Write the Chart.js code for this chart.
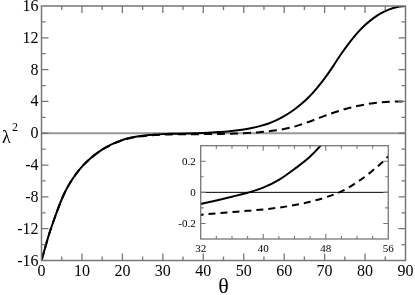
<!DOCTYPE html>
<html>
<head>
<meta charset="utf-8">
<script src="https://cdn.jsdelivr.net/npm/chart.js@4/dist/chart.umd.min.js"></script>
<style>
  html,body{margin:0;padding:0;background:#fff;}
  #wrap{position:relative;width:415px;height:295px;}
  #main{position:absolute;left:0;top:0;}
  #inset{position:absolute;left:160px;top:130px;}
</style>
</head>
<body>
<div id="wrap">
<canvas id="main" width="415" height="295"></canvas>
<canvas id="inset" width="240" height="128"></canvas>
</div>
<script>
// ---- data ----
const theta  = [0, 1, 2, 3, 4, 5, 6, 7, 8, 10, 12, 14, 16, 18, 20, 22, 24, 26, 28, 30, 32, 34, 36, 38, 40, 42, 44, 46, 48, 50, 52, 54, 56, 58, 60, 62, 64, 66, 68, 70, 72, 74, 76, 78, 80, 82, 84, 86, 88, 90];
const solid  = [-16, -14.2, -12.5, -11.0, -9.6, -8.3, -7.2, -6.3, -5.5, -4.2, -3.2, -2.4, -1.75, -1.25, -0.85, -0.57, -0.38, -0.25, -0.17, -0.11, -0.075, -0.052, -0.028, -0.003, 0.03, 0.08, 0.15, 0.23, 0.34, 0.48, 0.66, 0.9, 1.2, 1.62, 2.15, 2.8, 3.58, 4.5, 5.62, 6.9, 8.35, 9.9, 11.3, 12.55, 13.6, 14.45, 15.1, 15.58, 15.88, 16];
const dashed = [-16, -14.2, -12.5, -11.0, -9.6, -8.3, -7.2, -6.3, -5.5, -4.2, -3.2, -2.4, -1.78, -1.28, -0.88, -0.6, -0.42, -0.3, -0.22, -0.17, -0.145, -0.135, -0.127, -0.119, -0.11, -0.098, -0.082, -0.06, -0.032, 0.006, 0.065, 0.14, 0.233, 0.37, 0.54, 0.76, 1.07, 1.42, 1.8, 2.18, 2.55, 2.88, 3.17, 3.42, 3.62, 3.78, 3.89, 3.96, 3.99, 4.0];

const mainXTicks  = [0, 10, 20, 30, 40, 50, 60, 70, 80, 90];
const mainYTicks  = [-16, -12, -8, -4, 0, 4, 8, 12, 16];
const insetXTicks = [32, 40, 48, 56];
const insetYTicks = [-0.2, 0, 0.2];

const SERIF = "Liberation Serif";

function pts(ys){ return theta.map((t,i)=>({x:t, y:ys[i]})); }

function framePlugin(cfg){
  return {
    id:'frameTicks',
    beforeDatasetsDraw(chart){
      const {ctx, chartArea:a, scales:{y}} = chart;
      const py = y.getPixelForValue(0);
      ctx.save();
      ctx.strokeStyle = cfg.zeroColor; ctx.lineWidth = cfg.zeroWidth;
      ctx.beginPath(); ctx.moveTo(a.left, py); ctx.lineTo(a.right, py); ctx.stroke();
      ctx.restore();
    },
    afterDraw(chart){
      const {ctx, chartArea:a, scales:{x, y}} = chart;
      ctx.save();
      ctx.strokeStyle = cfg.frameColor; ctx.lineWidth = cfg.frameWidth;
      ctx.strokeRect(a.left, a.top, a.right-a.left, a.bottom-a.top);
      ctx.lineWidth = cfg.tickWidth;
      ctx.beginPath();
      for (let v = x.min; v <= x.max + 1e-9; v += cfg.xMinor) {
        const major = Math.abs(Math.round(v/cfg.xMajor)*cfg.xMajor - v) < 1e-6;
        const L = major ? cfg.majorLen : cfg.minorLen;
        const px = x.getPixelForValue(v);
        if (px <= a.left+0.5 || px >= a.right-0.5) continue;
        ctx.moveTo(px, a.bottom); ctx.lineTo(px, a.bottom - L);
        ctx.moveTo(px, a.top); ctx.lineTo(px, a.top + L);
      }
      for (let v = y.min; v <= y.max + 1e-9; v += cfg.yMinor) {
        const major = Math.abs(Math.round(v/cfg.yMajor)*cfg.yMajor - v) < 1e-6;
        const L = major ? cfg.majorLen : cfg.minorLen;
        const py = y.getPixelForValue(v);
        if (py <= a.top+0.5 || py >= a.bottom-0.5) continue;
        ctx.moveTo(a.left, py); ctx.lineTo(a.left + L, py);
        ctx.moveTo(a.right, py); ctx.lineTo(a.right - L, py);
      }
      ctx.stroke();
      // tick labels, placed through the scales
      ctx.fillStyle = '#000';
      ctx.font = cfg.fs + 'px ' + SERIF;
      ctx.textBaseline = 'alphabetic';
      ctx.textAlign = 'center';
      cfg.xticks.forEach(v => ctx.fillText(String(v), x.getPixelForValue(v), a.bottom + cfg.xBase));
      ctx.textAlign = 'right';
      cfg.yticks.forEach(v => ctx.fillText(String(v), a.left - cfg.yPad, y.getPixelForValue(v) + cfg.yBase));
      if (cfg.titles) {
        ctx.textAlign = 'left';
        ctx.font = '18px ' + SERIF;
        ctx.fillText('λ', 2, 143);
        ctx.font = '12px ' + SERIF;
        ctx.fillText('2', 12, 131);
        ctx.font = '22px ' + SERIF;
        ctx.textAlign = 'center';
        ctx.fillText('θ', (a.left+a.right)/2, 293);
      }
      ctx.restore();
    }
  };
}

function makeChart(id, c){
  return new Chart(document.getElementById(id), {
    type:'line',
    data:{ datasets:[
      {data:pts(solid), borderColor:'#000', borderWidth:c.lw, pointRadius:0, fill:false, cubicInterpolationMode:'monotone'},
      {data:pts(dashed), borderColor:'#000', borderWidth:c.lw, borderDash:c.dash, pointRadius:0, fill:false, cubicInterpolationMode:'monotone'}
    ]},
    options:{
      responsive:false, animation:false, devicePixelRatio:1,
      layout:{padding:{top:c.padTop, right:c.padRight, left:0, bottom:0}},
      plugins:{legend:{display:false}, tooltip:{enabled:false}},
      scales:{
        x:{type:'linear', min:c.xmin, max:c.xmax,
           afterBuildTicks:s=>{ s.ticks = c.xticks.map(v=>({value:v})); },
           afterFit:s=>{ s.height = c.xH; },
           grid:{display:false, drawTicks:false}, border:{display:false},
           ticks:{display:false}},
        y:{type:'linear', min:c.ymin, max:c.ymax,
           afterBuildTicks:s=>{ s.ticks = c.yticks.map(v=>({value:v})); },
           afterFit:s=>{ s.width = c.yW; },
           grid:{display:false, drawTicks:false}, border:{display:false},
           ticks:{display:false}}
      }
    },
    plugins:[framePlugin(Object.assign({xticks:c.xticks, yticks:c.yticks}, c.frame))]
  });
}

makeChart('main', {
  lw:2, dash:[8,5], padTop:6, padRight:9.5, xmin:0, xmax:90, ymin:-16, ymax:16,
  xticks:mainXTicks, yticks:mainYTicks, xH:34.5, yW:41.5,
  frame:{zeroColor:'#999', zeroWidth:2, frameColor:'#777', frameWidth:1.5, tickWidth:1.3,
         xMinor:5, xMajor:10, yMinor:2, yMajor:4, majorLen:7, minorLen:4, titles:true,
         fs:16, xBase:15, yPad:3, yBase:5}
});

makeChart('inset', {
  lw:2, dash:[7,5], padTop:15.7, padRight:11.7, xmin:32, xmax:56, ymin:-0.3, ymax:0.3,
  xticks:insetXTicks, yticks:insetYTicks, xH:19, yW:40.7,
  frame:{zeroColor:'#000', zeroWidth:1, frameColor:'#777', frameWidth:1.3, tickWidth:1.1,
         xMinor:2, xMajor:8, yMinor:0.1, yMajor:0.2, majorLen:5, minorLen:3, titles:false,
         fs:11, xBase:12.5, yPad:5, yBase:3.5}
});
</script>
</body>
</html>
